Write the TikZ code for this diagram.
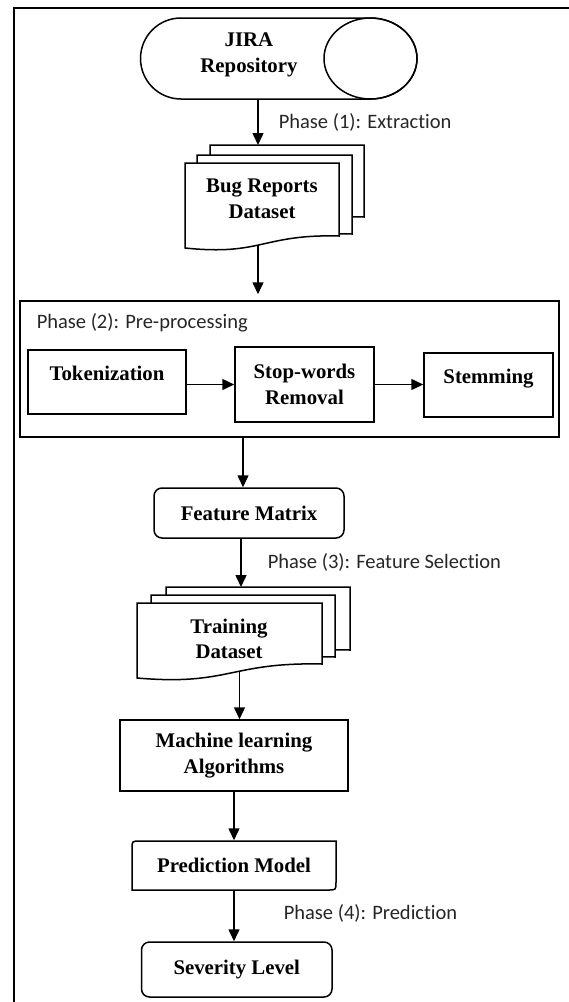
\documentclass[tikz,border=0pt]{standalone}
\usepackage{fontspec}
\setmainfont{Liberation Serif}
\newfontfamily\phasefont[Ligatures=NoCommon]{Carlito}
\usetikzlibrary{arrows.meta,calc}

% one sheet of a stacked document: x0, top, x1, bottom right, bottom left
\newcommand\docsheet[5]{%
  \filldraw[fill=white] (#1,#2) -- (#3,#2) -- (#3,#4)
    .. controls ({(#1+#3)/2},{#4-2}) and ({(#1+#3)/2},{#5+8}) .. (#1,#5) -- cycle;}

\begin{document}
\begin{tikzpicture}[
        x=1pt, y=-1pt, line width=1.5pt,
        textonly/.style={inner sep=0pt, align=center, font=\bfseries\fontsize{20.8}{25.5}\selectfont},
        box/.style={textonly, draw},
        roundbox/.style={box, rounded corners=8pt},
        phase/.style={anchor=west, inner sep=0pt, text=black!85, font=\phasefont\fontsize{20.5}{24}\selectfont},
        flow/.style={-{Triangle[length=12pt,width=11pt]}}
      ]
      \useasboundingbox (0,0) rectangle (569,1002);
      \draw[line width=2.2pt] (569,8) -- (14,8) -- (14,1002);

      % repository
      \draw (181,18) -- (370.5,18) .. controls (396.2,18) and (417,36.1) .. (417,58.5)
        .. controls (417,80.9) and (396.2,99) .. (370.5,99) -- (181,99)
        .. controls (158.6,99) and (140.5,80.9) .. (140.5,58.5)
        .. controls (140.5,36.1) and (158.6,18) .. cycle;
      \draw (370.5,58.5) ellipse [x radius=46.5, y radius=40.5];
      \node[textonly] (jira) at (249,55) {JIRA\\Repository};
      \coordinate (jirabot) at (258,99);

      % bug reports
      \docsheet{210}{145}{364}{217}{225}
      \docsheet{197}{155}{352}{234}{236}
      \docsheet{185}{163}{339}{236}{248}
      \node[textonly] (bugs) at (262,199) {Bug Reports\\Dataset};
      \coordinate (bugtop) at (258,145);
      \coordinate (bugbot) at (258,245);

      \draw[flow] (jirabot) -- (bugtop);
      \node[phase] (ph1) at (278,122) {Phase (1): Extraction};

      % pre-processing
      \node[box, minimum width=539pt, minimum height=136pt] (prep) at (289.5,369) {};
      \node[phase] (ph2) at (36,323) {Phase (2): Pre-processing};
      \node[box, minimum width=158pt, minimum height=64pt, text height=14pt, text depth=18pt] (tok) at (107,382) {Tokenization};
      \node[box, minimum width=139pt, minimum height=75pt] (stop) at (304.5,384.5) {Stop-words\\Removal};
      \node[box, minimum width=129pt, minimum height=64pt, text height=14pt, text depth=18pt] (stem) at (488.5,385) {Stemming};
      \draw[flow] (stop.west -| tok.east) -- (stop.west);
      \draw[flow] (stop.east) -- (stop.east -| stem.west);
      \draw[flow, shorten >=6pt] (bugbot) -- (bugbot |- prep.north);

      % feature matrix
      \node[roundbox, minimum width=190pt, minimum height=50pt] (fm) at (249,513) {Feature Matrix};
      \draw[flow] ($(fm.north |- prep.south)+(-6,0)$) -- ($(fm.north)+(-6,0)$);

      % training set
      \coordinate (traintop) at (241,587);
      \draw[flow] (fm.south -| traintop) -- (traintop);
      \node[phase] (ph3) at (267,562) {Phase (3): Feature Selection};
      \docsheet{166}{587}{350}{650}{660}
      \docsheet{151}{595}{335}{657}{668}
      \docsheet{137}{603}{322}{664}{678}
      \node[textonly] (train) at (229,639) {Training\\Dataset};
      \coordinate (trainbot) at (239.5,672);

      % learning and prediction
      \node[box, minimum width=228pt, minimum height=71pt] (ml) at (234,755.5) {Machine learning\\Algorithms};
      \draw[flow] (trainbot) -- (trainbot |- ml.north);
      \node[textonly, minimum width=204pt, minimum height=49pt] (pm) at (234,865.5) {Prediction Model};
      \draw (132,890) -- (132,849) .. controls (132,841) .. (140,841) -- (336,841)
        -- (336,882) .. controls (336,890) .. (328,890) -- cycle;
      \draw[flow] (ml.south) -- (pm.north);
      \node[roundbox, minimum width=190.5pt, minimum height=55pt] (sl) at (236.75,969.5) {Severity Level};
      \draw[flow] (pm.south) -- (pm.south |- sl.north);
      \node[phase] (ph4) at (283,913) {Phase (4): Prediction};
      \end{tikzpicture}
\end{document}
